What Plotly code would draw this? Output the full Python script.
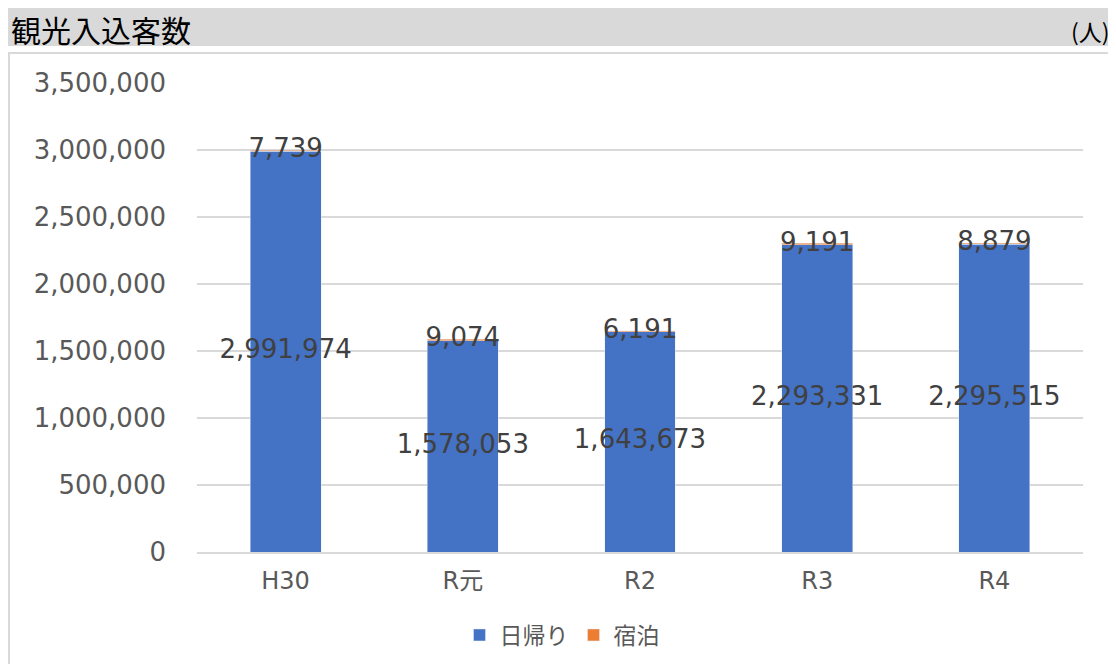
import plotly.graph_objects as go

categories = ["H30", "R元", "R2", "R3", "R4"]
daytrip = [2991974, 1578053, 1643673, 2293331, 2295515]
overnight = [7739, 9074, 6191, 9191, 8879]
y_ticks = [0, 500000, 1000000, 1500000, 2000000, 2500000, 3000000, 3500000]

# page is offset by the body margin (8px), so figure coords = page coords - 8
W, H = 1108, 656
L, R, T, B = 189, 1075, 75, 544
pw, ph = R - L, B - T

def px(x):
    return (x - L) / pw

def py(y):
    return (B - y) / ph

FONT = "DejaVu Sans, Noto Sans CJK JP"
GRAY = "#595959"
LABEL = "#404040"

fig = go.Figure()
fig.add_trace(go.Bar(
    x=categories, y=daytrip, name="日帰り", marker_color="#4472C4",
))
fig.add_trace(go.Bar(
    x=categories, y=overnight, name="宿泊", marker_color="#ED7D31",
))
fig.add_trace(go.Scatter(
    x=categories, y=[d / 2 for d in daytrip],
    mode="text", text=[f"{v:,}" for v in daytrip], textposition="middle center",
    textfont=dict(size=26, color=LABEL, family=FONT), showlegend=False,
    cliponaxis=False, hoverinfo="skip",
))
fig.add_trace(go.Scatter(
    x=categories, y=[d + o / 2 for d, o in zip(daytrip, overnight)],
    mode="text", text=[f"{v:,}" for v in overnight], textposition="middle center",
    textfont=dict(size=26, color=LABEL, family=FONT), showlegend=False,
    cliponaxis=False, hoverinfo="skip",
))

shapes = [
    dict(type="rect", xref="paper", yref="paper", x0=px(0), x1=px(1108), y0=py(38), y1=py(0),
         fillcolor="#d9d9d9", line_width=0, layer="below"),
    dict(type="rect", xref="paper", yref="paper", x0=px(1), x1=px(1104), y0=py(662), y1=py(45),
         fillcolor="rgba(0,0,0,0)", line=dict(color="#d9d9d9", width=2), layer="below"),
]

fig.update_layout(
    width=W, height=H, margin=dict(l=L, r=W - R, t=T, b=H - B),
    barmode="stack", bargap=0.6,
    paper_bgcolor="white", plot_bgcolor="white",
    font=dict(family=FONT, color=GRAY),
    shapes=shapes,
    showlegend=True,
    legend=dict(orientation="h", xref="container", x=0.5, xanchor="center",
                yref="container", y=(H - 627) / H, yanchor="middle",
                font=dict(size=23, color=GRAY, family="Noto Sans CJK JP"), traceorder="normal",
                itemwidth=30),
    annotations=[
        dict(text="観光入込客数", xref="paper", yref="paper", x=px(1), y=py(21),
             xanchor="left", yanchor="middle", showarrow=False,
             font=dict(size=30, color="black", family="Noto Sans CJK JP")),
        dict(text="(人)", xref="paper", yref="paper", x=px(1104), y=py(23),
             xanchor="right", yanchor="middle", showarrow=False,
             font=dict(size=23, color="black", family="Noto Sans CJK JP")),
    ],
)
fig.update_yaxes(range=[0, 3500000], tickvals=y_ticks, ticktext=[f"{v:,}" for v in y_ticks],
                 showgrid=True, gridcolor="#d9d9d9", gridwidth=1.5, zeroline=False,
                 tickfont=dict(size=26, color=GRAY), ticklabelstandoff=30, showline=False)
fig.update_xaxes(showline=True, linecolor="#d9d9d9", linewidth=1.5,
                 tickfont=dict(size=24, color=GRAY), ticks="", ticklabelstandoff=6)

fig.write_html("out.html")
